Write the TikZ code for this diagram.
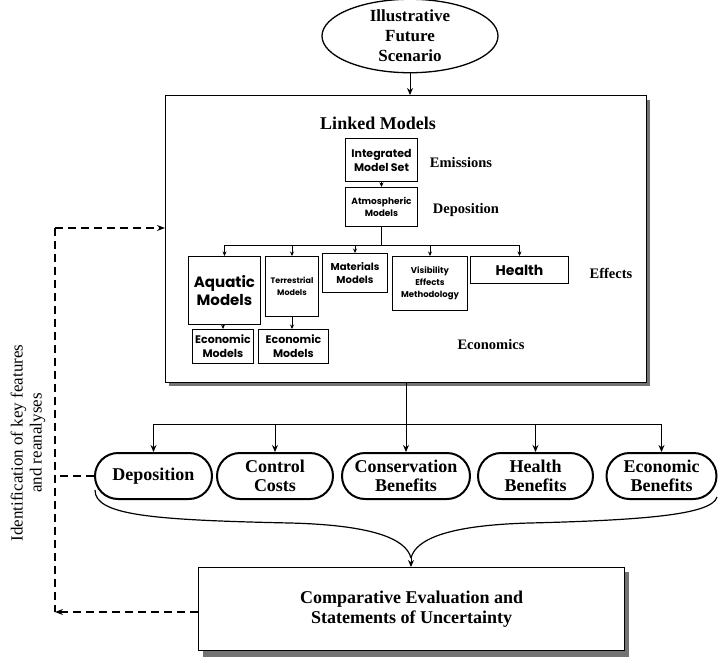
\documentclass[tikz,border=0pt]{standalone}
\usepackage{fontspec}
\setmainfont{Liberation Serif}
\newfontfamily\gothic{Poppins}
\usetikzlibrary{arrows.meta,shapes.misc,shapes.geometric}
\begin{document}
\begin{tikzpicture}[x=1pt,y=-1pt,
 arr/.style={-{Stealth[length=7pt,width=6pt]}, line width=1pt},
 sarr/.style={-{Stealth[length=4.5pt,width=4pt]}, line width=0.9pt},
 mbox/.style={draw, line width=1pt, inner sep=0pt, anchor=north west, align=center},
 pill/.style={draw, rounded rectangle, line width=2pt, inner sep=0pt, minimum height=46pt, align=center, font=\fontsize{18}{18.5}\selectfont\bfseries},
 lbl/.style={font=\fontsize{14.5}{16}\selectfont\bfseries},
 dsh/.style={dash pattern=on 8pt off 5pt, line width=1.3pt},
 shadowc/.style={fill=black!55},
]
\useasboundingbox (0,0) rectangle (718,659);

% title
\node[draw, ellipse, line width=1.3pt, minimum width=176pt, minimum height=68pt, inner sep=0pt, align=center,
  font=\fontsize{17}{20}\selectfont\bfseries] (scen) at (410,36) {Illustrative\\Future\\Scenario};

% main box
\fill[shadowc] (169,100) rectangle (650,386);
\node[draw, fill=white, line width=1.3pt, inner sep=0pt, minimum width=481pt, minimum height=287pt, anchor=north west] (main) at (165,95) {};
\draw[arr] (scen.south) -- (scen.south |- main.north);

\node[font=\fontsize{18}{20}\selectfont\bfseries] (linked) at (378,123) {Linked Models};
\node[mbox, minimum width=72pt, minimum height=43pt, font=\gothic\bfseries\fontsize{11}{14}\selectfont] (ims) at (345,138) {Integrated\\Model Set};
\node[lbl] (emis) at (461,163) {Emissions};
\node[mbox, minimum width=72pt, minimum height=39pt, font=\gothic\bfseries\fontsize{9}{12}\selectfont] (atm) at (345,187) {Atmospheric\\Models};
\node[lbl] (depl) at (466,210) {Deposition};
\draw[sarr] (ims.south) -- (atm.north);

\node[mbox, minimum width=72pt, minimum height=68pt, font=\gothic\bfseries\fontsize{15}{18}\selectfont] (aqu) at (188,256) {Aquatic\\Models};
\node[mbox, minimum width=53pt, minimum height=60pt, font=\gothic\bfseries\fontsize{8}{12}\selectfont] (ter) at (265,256) {Terrestrial\\Models};
\node[mbox, minimum width=65pt, minimum height=39pt, font=\gothic\bfseries\fontsize{10}{13}\selectfont] (mat) at (322,253) {Materials\\Models};
\node[mbox, minimum width=75pt, minimum height=54pt, font=\gothic\bfseries\fontsize{8.5}{12}\selectfont] (vis) at (392,256) {Visibility\\Effects\\Methodology};
\node[mbox, minimum width=98pt, minimum height=27pt, font=\gothic\bfseries\fontsize{14}{16}\selectfont] (hea) at (470,256) {Health};
\node[lbl] (eff) at (611,273) {Effects};
\node[mbox, minimum width=61pt, minimum height=34pt, font=\gothic\bfseries\fontsize{11}{14}\selectfont] (eco1) at (192,329) {Economic\\Models};
\node[mbox, minimum width=70pt, minimum height=34pt, font=\gothic\bfseries\fontsize{11}{14}\selectfont] (eco2) at (258,329) {Economic\\Models};
\node[lbl] (econ) at (491,345) {Economics};

\coordinate (bus) at (378,245);
\draw[line width=1pt] (atm.south) -- (atm.south |- bus);
\draw[line width=1pt] (aqu.north |- bus) -- (hea.north |- bus);
\foreach \n in {aqu,ter,mat,vis,hea} \draw[sarr] (\n.north |- bus) -- (\n.north);
\draw[sarr] (eco1.north |- aqu.south) -- (eco1.north);
\draw[sarr] (ter.south) -- (ter.south |- eco2.north);

% outcome ovals
\node[pill, minimum width=117pt] (p1) at (153.5,476) {Deposition};
\node[pill, minimum width=116pt] (p2) at (275,476) {Control\\Costs};
\node[pill, minimum width=128pt] (p3) at (406,476) {Conservation\\Benefits};
\node[pill, minimum width=115pt] (p4) at (535.5,476) {Health\\Benefits};
\node[pill, minimum width=110pt] (p5) at (661.5,476) {Economic\\Benefits};

\coordinate (bus2) at (408,424);
\draw[arr] (main.south -| p3.north) -- (p3.north);
\draw[line width=1pt] (p1.north |- bus2) -- (p5.north |- bus2);
\foreach \n in {p1,p2,p4,p5} \draw[arr] (\n.north |- bus2) -- (\n.north);

% comparative box
\fill[shadowc] (203,572) rectangle (629,657);
\node[draw, fill=white, line width=1.3pt, minimum width=426pt, minimum height=83pt, anchor=north west, inner sep=0pt, align=center,
  font=\fontsize{18}{20}\selectfont\bfseries] (comp) at (198,567) {Comparative Evaluation and\\Statements of Uncertainty};

% brace
\coordinate (bl) at (95,490);
\coordinate (br) at (717,497);
\coordinate (tip) at (411,558);
\draw[line width=1.2pt] (bl) .. controls (95,515) and (150,520) .. (290,523) .. controls (370,525) and (406,538) .. (tip);
\draw[line width=1.2pt] (tip) .. controls (416,538) and (452,525) .. (530,523) .. controls (650,520) and (712,514) .. (br);
\draw[arr] (tip) -- (tip |- comp.north);

% feedback loop
\coordinate (dt) at (55,228);
\coordinate (db) at (55,612);
\draw[dsh] (dt) -- (db);
\draw[dsh, -{Stealth[length=8pt,width=6pt]}] (dt) -- (dt -| main.west);
\draw[dsh, -{Stealth[length=8pt,width=6pt]}] (db -| comp.west) -- (db);
\draw[dsh] (p1.west) -- (p1.west -| dt);
\node[rotate=90, align=center, font=\fontsize{17}{19}\selectfont] (idk) at (28,443) {Identification of key features\\and reanalyses};
\end{tikzpicture}
\end{document}
